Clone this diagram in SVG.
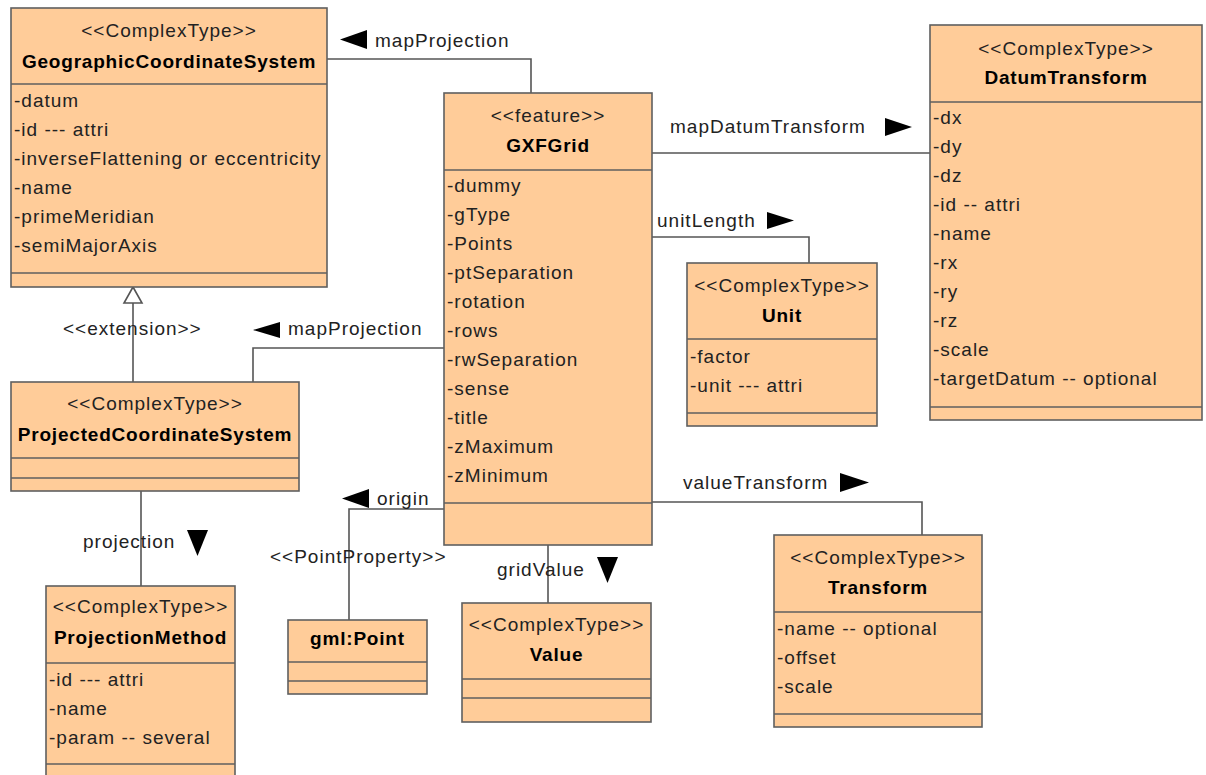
<svg xmlns="http://www.w3.org/2000/svg" width="1206" height="775" viewBox="0 0 1206 775">
<style>
.box{fill:#FFCC99;stroke:#5f5f5f;stroke-width:1.6}
.div{stroke:#5f5f5f;stroke-width:1.6}
.st{font-family:"Liberation Sans",Arial,sans-serif;font-size:19px;letter-spacing:1px;fill:#222;text-anchor:middle}
.nm{font-family:"Liberation Sans",Arial,sans-serif;font-size:19px;font-weight:bold;letter-spacing:0.8px;fill:#000;text-anchor:middle}
.at{font-family:"Liberation Sans",Arial,sans-serif;font-size:19px;letter-spacing:1px;fill:#222}
.lb{font-family:"Liberation Sans",Arial,sans-serif;font-size:19px;letter-spacing:1px;fill:#222}
.ln{fill:none;stroke:#555;stroke-width:1.6}
.ar{fill:#000}
.gen{fill:#fff;stroke:#555;stroke-width:1.6}
</style>
<rect width="1206" height="775" fill="#fff"/>
<g id="connectors">
<polyline class="ln" points="327,59 531,59 531,93"/>
<polygon class="ar" points="340,39.5 367,30 367,49"/>
<text class="lb" x="375" y="47">mapProjection</text>
<line class="ln" x1="652" y1="153" x2="930" y2="153"/>
<polygon class="ar" points="885,118 912,127 885,136"/>
<text class="lb" x="670" y="133">mapDatumTransform</text>
<polyline class="ln" points="652,237 809,237 809,263"/>
<polygon class="ar" points="767,212 794,220.5 767,229"/>
<text class="lb" x="657" y="227">unitLength</text>
<polyline class="ln" points="652,502 922,502 922,535"/>
<polygon class="ar" points="840,473 869,482.5 840,492"/>
<text class="lb" x="683" y="489">valueTransform</text>
<line class="ln" x1="548" y1="545" x2="548" y2="603"/>
<polygon class="ar" points="597,557 618,557 607.5,583"/>
<text class="lb" x="497" y="576">gridValue</text>
<polyline class="ln" points="444,509 349,509 349,620"/>
<polygon class="ar" points="342,498.5 369,489 369,508"/>
<text class="lb" x="377" y="505">origin</text>
<text class="lb" x="270" y="563">&lt;&lt;PointProperty&gt;&gt;</text>
<polyline class="ln" points="444,348 253,348 253,382"/>
<polygon class="ar" points="253,330 280,322 280,338"/>
<text class="lb" x="288" y="335">mapProjection</text>
<line class="ln" x1="133" y1="303" x2="133" y2="382"/>
<polygon class="gen" points="133,287 124,303 142,303"/>
<text class="lb" x="63" y="335">&lt;&lt;extension&gt;&gt;</text>
<line class="ln" x1="141" y1="491" x2="141" y2="586"/>
<polygon class="ar" points="187,530 208,530 197.5,556"/>
<text class="lb" x="83" y="548">projection</text>
</g>
<g id="GeographicCoordinateSystem">
<rect class="box" x="11" y="8" width="316" height="279"/>
<line class="div" x1="11" y1="84" x2="327" y2="84"/>
<line class="div" x1="11" y1="273" x2="327" y2="273"/>
<text class="st" x="169" y="37">&lt;&lt;ComplexType&gt;&gt;</text>
<text class="nm" x="169" y="68">GeographicCoordinateSystem</text>
<text class="at" x="14" y="107">-datum</text>
<text class="at" x="14" y="136">-id --- attri</text>
<text class="at" x="14" y="165">-inverseFlattening or eccentricity</text>
<text class="at" x="14" y="194">-name</text>
<text class="at" x="14" y="223">-primeMeridian</text>
<text class="at" x="14" y="252">-semiMajorAxis</text>
</g>
<g id="GXFGrid">
<rect class="box" x="444" y="93" width="208" height="452"/>
<line class="div" x1="444" y1="170" x2="652" y2="170"/>
<line class="div" x1="444" y1="503" x2="652" y2="503"/>
<text class="st" x="548" y="122">&lt;&lt;feature&gt;&gt;</text>
<text class="nm" x="548" y="152">GXFGrid</text>
<text class="at" x="447" y="192">-dummy</text>
<text class="at" x="447" y="221">-gType</text>
<text class="at" x="447" y="250">-Points</text>
<text class="at" x="447" y="279">-ptSeparation</text>
<text class="at" x="447" y="308">-rotation</text>
<text class="at" x="447" y="337">-rows</text>
<text class="at" x="447" y="366">-rwSeparation</text>
<text class="at" x="447" y="395">-sense</text>
<text class="at" x="447" y="424">-title</text>
<text class="at" x="447" y="453">-zMaximum</text>
<text class="at" x="447" y="482">-zMinimum</text>
</g>
<g id="DatumTransform">
<rect class="box" x="930" y="25" width="272" height="395"/>
<line class="div" x1="930" y1="102" x2="1202" y2="102"/>
<line class="div" x1="930" y1="407" x2="1202" y2="407"/>
<text class="st" x="1066" y="55">&lt;&lt;ComplexType&gt;&gt;</text>
<text class="nm" x="1066" y="84">DatumTransform</text>
<text class="at" x="933" y="124">-dx</text>
<text class="at" x="933" y="153">-dy</text>
<text class="at" x="933" y="182">-dz</text>
<text class="at" x="933" y="211">-id -- attri</text>
<text class="at" x="933" y="240">-name</text>
<text class="at" x="933" y="269">-rx</text>
<text class="at" x="933" y="298">-ry</text>
<text class="at" x="933" y="327">-rz</text>
<text class="at" x="933" y="356">-scale</text>
<text class="at" x="933" y="385">-targetDatum -- optional</text>
</g>
<g id="Unit">
<rect class="box" x="687" y="263" width="190" height="163"/>
<line class="div" x1="687" y1="339" x2="877" y2="339"/>
<line class="div" x1="687" y1="413" x2="877" y2="413"/>
<text class="st" x="782" y="292">&lt;&lt;ComplexType&gt;&gt;</text>
<text class="nm" x="782" y="322">Unit</text>
<text class="at" x="690" y="363">-factor</text>
<text class="at" x="690" y="392">-unit --- attri</text>
</g>
<g id="Transform">
<rect class="box" x="774" y="535" width="208" height="192"/>
<line class="div" x1="774" y1="612" x2="982" y2="612"/>
<line class="div" x1="774" y1="714" x2="982" y2="714"/>
<text class="st" x="878" y="564">&lt;&lt;ComplexType&gt;&gt;</text>
<text class="nm" x="878" y="594">Transform</text>
<text class="at" x="777" y="635">-name -- optional</text>
<text class="at" x="777" y="664">-offset</text>
<text class="at" x="777" y="693">-scale</text>
</g>
<g id="Value">
<rect class="box" x="462" y="603" width="189" height="119"/>
<line class="div" x1="462" y1="679" x2="651" y2="679"/>
<line class="div" x1="462" y1="698" x2="651" y2="698"/>
<text class="st" x="556.5" y="631">&lt;&lt;ComplexType&gt;&gt;</text>
<text class="nm" x="556.5" y="661">Value</text>
</g>
<g id="gmlPoint">
<rect class="box" x="288" y="620" width="139" height="74"/>
<line class="div" x1="288" y1="662" x2="427" y2="662"/>
<line class="div" x1="288" y1="681" x2="427" y2="681"/>
<text class="nm" x="357.5" y="645">gml:Point</text>
</g>
<g id="ProjectedCoordinateSystem">
<rect class="box" x="11" y="382" width="288" height="109"/>
<line class="div" x1="11" y1="458" x2="299" y2="458"/>
<line class="div" x1="11" y1="478" x2="299" y2="478"/>
<text class="st" x="155" y="410">&lt;&lt;ComplexType&gt;&gt;</text>
<text class="nm" x="155" y="441">ProjectedCoordinateSystem</text>
</g>
<g id="ProjectionMethod">
<rect class="box" x="46" y="586" width="189" height="204"/>
<line class="div" x1="46" y1="663" x2="235" y2="663"/>
<line class="div" x1="46" y1="764" x2="235" y2="764"/>
<text class="st" x="140.5" y="613">&lt;&lt;ComplexType&gt;&gt;</text>
<text class="nm" x="140.5" y="644">ProjectionMethod</text>
<text class="at" x="49" y="686">-id --- attri</text>
<text class="at" x="49" y="715">-name</text>
<text class="at" x="49" y="744">-param -- several</text>
</g>
</svg>
